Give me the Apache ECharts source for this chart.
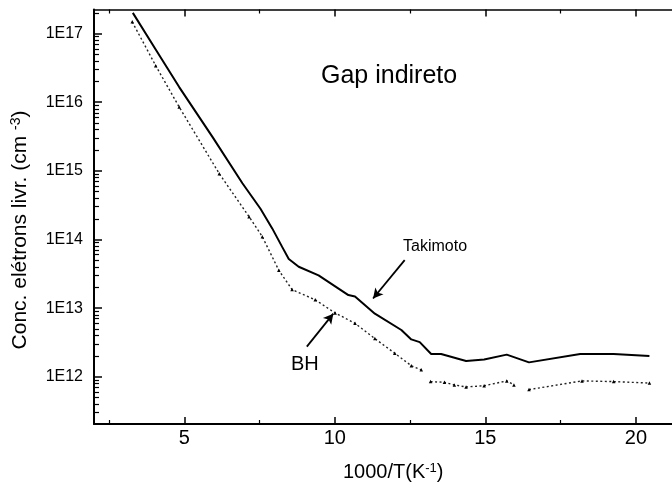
<!DOCTYPE html>
<html>
<head>
<meta charset="utf-8">
<script src="https://cdn.jsdelivr.net/npm/echarts@6/dist/echarts.min.js"></script>
<style>html,body{margin:0;padding:0;background:#fff}#c{width:672px;height:487px}</style>
</head>
<body>
<div id="c"></div>
<script>
// ---- Data ----
var takimotoX = [3.29, 4.06, 4.83, 5.94, 6.93, 7.53, 7.92, 8.25, 8.47, 8.80, 9.46, 10.45, 10.67, 11.33, 12.21, 12.54, 12.82, 13.2, 13.53, 14.36, 14.96, 15.71, 16.45, 18.15, 19.26, 20.45];
var takimotoY = [2.0e17, 5.75e16, 1.66e16, 3.1e15, 6.6e14, 2.8e14, 1.45e14, 7.8e13, 5.2e13, 4.0e13, 3.0e13, 1.55e13, 1.48e13, 8.3e12, 4.8e12, 3.5e12, 3.2e12, 2.15e12, 2.15e12, 1.7e12, 1.78e12, 2.1e12, 1.62e12, 2.15e12, 2.15e12, 2.0e12];

var bhX = [3.27, 4.05, 4.83, 6.16, 7.15, 7.59, 8.14, 8.58, 9.35, 10.01, 10.67, 11.33, 11.99, 12.54, 12.87, 13.0, 13.18, 13.64, 13.97, 14.36, 14.96, 15.71, 15.95, 16.2, 16.45, 18.21, 19.26, 20.45];
var bhY = [1.48e17, 3.4e16, 8.5e15, 9.1e14, 2.15e14, 1.1e14, 3.55e13, 1.86e13, 1.32e13, 8.5e12, 6.0e12, 3.6e12, 2.2e12, 1.45e12, 1.26e12, null, 8.5e11, 8.3e11, 7.6e11, 7.1e11, 7.4e11, 8.7e11, 7.6e11, null, 6.5e11, 8.7e11, 8.5e11, 8.1e11];

var xMajorTicks = [5, 10, 15, 20];
var xTickLabels = ['5', '10', '15', '20'];
var xMinorTicks = [2.5, 7.5, 12.5, 17.5];
var yMajorTicks = [1e12, 1e13, 1e14, 1e15, 1e16, 1e17];
var yTickLabels = ['1E12', '1E13', '1E14', '1E15', '1E16', '1E17'];
var yMinorTicks = [];
[11, 12, 13, 14, 15, 16, 17].forEach(function (d) {
  for (var m = 2; m <= 9; m++) {
    var v = m * Math.pow(10, d);
    if (v > 2.06e11 && v < 2.24e17) yMinorTicks.push(v);
  }
});

// annotation arrows (data space)
var takArrow = [[12.32, 5.0e13], [11.27, 1.38e13]];
var bhArrow = [[9.07, 2.75e12], [9.95, 8.3e12]];

var FONT = 'Liberation Sans, Arial, sans-serif';

function pairs(xs, ys) {
  return xs.map(function (x, i) { return [x, ys[i] == null ? '-' : ys[i]]; });
}
function lab(v, vals, labels) {
  for (var i = 0; i < vals.length; i++) {
    if (Math.abs(Math.log10(v) - Math.log10(vals[i])) < 1e-6) return labels[i];
  }
  return '';
}
function xlab(v) {
  for (var i = 0; i < xMajorTicks.length; i++) if (Math.abs(v - xMajorTicks[i]) < 1e-6) return xTickLabels[i];
  return '';
}

var XMIN = 2, XMAX = 21.2, YMIN = 2.05e11, YMAX = 2.24e17;

var baseX = { type: 'value', min: XMIN, max: XMAX, splitLine: { show: false } };
var baseY = { type: 'log', logBase: 10, min: YMIN, max: YMAX, splitLine: { show: false } };

var chart = echarts.init(document.getElementById('c'));
chart.setOption({
  animation: false,
  backgroundColor: '#fff',
  grid: { left: 94, right: -4, top: 9.5, bottom: 63 },
  xAxis: [
    Object.assign({}, baseX, {
      position: 'bottom',
      axisLine: { show: true, onZero: false, lineStyle: { color: '#000', width: 2 } },
      axisTick: { show: true, inside: true, length: 7, customValues: xMajorTicks, lineStyle: { color: '#000', width: 1.5 } },
      axisLabel: { show: true, customValues: xMajorTicks, formatter: xlab, color: '#000', fontFamily: FONT, fontSize: 20, margin: 4 }
    }),
    Object.assign({}, baseX, {
      position: 'bottom',
      axisLine: { show: false, onZero: false },
      axisTick: { show: true, inside: true, length: 4, customValues: xMinorTicks, lineStyle: { color: '#000', width: 1.2 } },
      axisLabel: { show: false }
    }),
    Object.assign({}, baseX, {
      position: 'top',
      axisLine: { show: true, onZero: false, lineStyle: { color: '#000', width: 1.5 } },
      axisTick: { show: true, inside: true, length: 7, customValues: xMajorTicks, lineStyle: { color: '#000', width: 1.5 } },
      axisLabel: { show: false }
    }),
    Object.assign({}, baseX, {
      position: 'top',
      axisLine: { show: false, onZero: false },
      axisTick: { show: true, inside: true, length: 4, customValues: xMinorTicks, lineStyle: { color: '#000', width: 1.2 } },
      axisLabel: { show: false }
    })
  ],
  yAxis: [
    Object.assign({}, baseY, {
      position: 'left',
      axisLine: { show: true, onZero: false, lineStyle: { color: '#000', width: 2 } },
      axisTick: { show: true, inside: true, length: 8, customValues: yMajorTicks, lineStyle: { color: '#000', width: 1.5 } },
      axisLabel: { show: true, customValues: yMajorTicks, formatter: function (v) { return lab(v, yMajorTicks, yTickLabels); }, color: '#000', fontFamily: FONT, fontSize: 16, margin: 11 }
    }),
    Object.assign({}, baseY, {
      position: 'left',
      axisLine: { show: false, onZero: false },
      axisTick: { show: true, inside: true, length: 5, customValues: yMinorTicks, lineStyle: { color: '#000', width: 1.2 } },
      axisLabel: { show: false }
    })
  ],
  series: [
    {
      name: 'Takimoto', type: 'line', xAxisIndex: 0, yAxisIndex: 0,
      data: pairs(takimotoX, takimotoY),
      showSymbol: false, symbol: 'none',
      lineStyle: { color: '#000', width: 2 },
      markLine: {
        silent: true, symbol: ['none', 'arrow'], symbolSize: [8, 10], label: { show: false },
        lineStyle: { color: '#000', width: 1.8, type: 'solid' },
        data: [
          [{ coord: takArrow[0] }, { coord: takArrow[1] }],
          [{ coord: bhArrow[0] }, { coord: bhArrow[1] }]
        ]
      }
    },
    {
      name: 'BH', type: 'line', xAxisIndex: 0, yAxisIndex: 0,
      data: pairs(bhX, bhY),
      connectNulls: false,
      symbol: 'triangle', symbolSize: 3.5, showSymbol: true,
      itemStyle: { color: '#000' },
      lineStyle: { color: '#222', width: 1.4, type: [2, 2.5] }
    }
  ],
  graphic: [
    { type: 'text', left: 321, top: 64, style: { text: 'Gap indireto', font: '25px ' + FONT, fill: '#000' } },
    { type: 'text', left: 403, top: 239, style: { text: 'Takimoto', font: '16px ' + FONT, fill: '#000' } },
    { type: 'text', left: 291, top: 354, style: { text: 'BH', font: '20px ' + FONT, fill: '#000' } },
    { type: 'text', left: 343, top: 462, style: {
        text: '1000/T(K{sup|-1})', font: '20px ' + FONT, fill: '#000',
        rich: { sup: { fontSize: 13, fontFamily: FONT, verticalAlign: 'top', padding: [0, 0, 8, 0] } } } },
    { type: 'text', x: 20, y: 230, rotation: Math.PI / 2, style: {
        text: 'Conc. elétrons livr. (cm {sup|-3})', font: '21px ' + FONT, fill: '#000', align: 'center', verticalAlign: 'middle',
        rich: { sup: { fontSize: 14, fontFamily: FONT, padding: [0, 0, 8, 0] } } } }
  ]
});
</script>
</body>
</html>
